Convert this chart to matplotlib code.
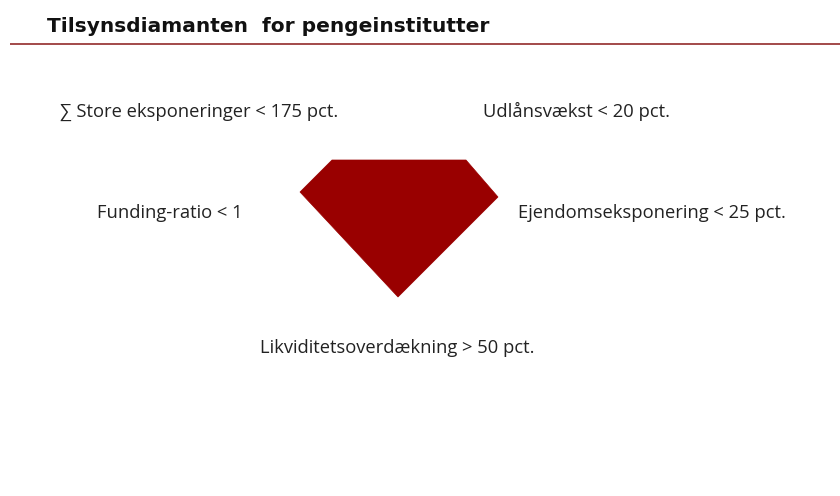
import matplotlib
matplotlib.use('Agg')
import matplotlib.pyplot as plt
from matplotlib.patches import Polygon

# ------------------------------------------------------------------
# data: diamond outline (pixel space) and the five threshold labels
# ------------------------------------------------------------------
title = 'Tilsynsdiamanten  for pengeinstitutter'

diamond_x = [300, 332, 466, 498, 398]
diamond_y = [192, 160, 160, 197, 297]

labels = [
    '\u2211 Store eksponeringer < 175 pct.',
    'Udlånsvækst < 20 pct.',
    'Funding-ratio < 1',
    'Ejendomseksponering < 25 pct.',
    'Likviditetsoverdækning > 50 pct.',
]
label_x = [60, 483, 97, 518, 260]
label_y = [117, 117, 218, 218, 353]

W, H = 840, 496
fig = plt.figure(figsize=(W / 100, H / 100), dpi=100)
ax = fig.add_axes([0, 0, 1, 1])
ax.set_xlim(0, W)
ax.set_ylim(H, 0)
ax.axis('off')

# title + rule under it
ax.text(47, 32, title, fontsize=14.5, fontweight='bold',
        family=['DejaVu Sans'], color='#111111', va='baseline', ha='left')
ax.plot([10, W], [44, 44], color='#9b3a3a', lw=1.3, solid_capstyle='butt')

# diamond
ax.add_patch(Polygon(list(zip(diamond_x, diamond_y)), closed=True,
                     facecolor='#990000', edgecolor='#990000', lw=0.5))

for txt, x, y in zip(labels, label_x, label_y):
    ax.text(x, y, txt, fontsize=13.2, family=['Open Sans', 'DejaVu Sans'],
            color='#222222', va='baseline', ha='left')

plt.savefig('out.png', dpi=100)
plt.close()
